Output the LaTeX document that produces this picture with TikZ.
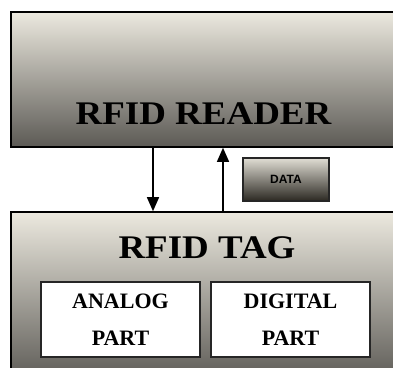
\documentclass[tikz,border=0pt]{standalone}
\usepackage{fontspec}
\setmainfont{Liberation Serif}
\setsansfont{Liberation Sans}
\usepackage{tikz}
\usetikzlibrary{arrows.meta}
\usetikzlibrary{shapes}
\usetikzlibrary{positioning}
\definecolor{panelTop}{HTML}{ECE9DF}
\definecolor{panelMid}{HTML}{B6B3A9}
\definecolor{panelLow}{HTML}{5C5A55}
\tikzstyle{panel}  = [
    shape=rectangle,
    draw=black,
    line width=1.6pt,
    top color=panelTop,
    middle color=panelMid,
    bottom color=panelLow,
    inner sep=0pt
]
\tikzstyle{part}  = [
    shape=rectangle,
    draw=black!85,
    line width=1.3pt,
    fill=white,
    inner sep=0pt,
    minimum width=159pt,
    minimum height=75pt,
    align=center,
    font=\fontsize{22}{37}\selectfont\bfseries
]
\tikzstyle{tag}  = [
    shape=rectangle,
    draw=black!85,
    line width=1.2pt,
    top color=panelTop!95!black,
    bottom color=panelLow!130,
    inner sep=0pt,
    minimum width=86pt,
    minimum height=43pt,
    font=\fontsize{12}{12}\selectfont\sffamily\bfseries
]
\tikzstyle{flow}  = [
    draw,
    line width=1.4pt,
    -{Triangle[length=14pt,width=12pt]}
]
\tikzstyle{title}  = [
    xscale=1.12,
    inner sep=0pt,
    font=\fontsize{33}{33}\selectfont\bfseries
]

\begin{document}
\begin{tikzpicture}[x=1pt, y=-1pt]
\useasboundingbox (0,0) rectangle (393,367);
\clip (0,0) rectangle (393,367);
\node[panel, minimum width=395pt, minimum height=135pt] (reader) at (208.5,79.5) {};
\node[title] (readerlabel) at (203.5,114) {RFID READER};
\node[panel, minimum width=395pt, minimum height=170pt] (board) at (208.5,297) {};
\node[title] (boardlabel) at (207,248) {RFID TAG};
\node[part] (analog)  at (120.5,319.5) {ANALOG\\PART};
\node[part] (digital) at (290.5,319.5) {DIGITAL\\PART};
\node[tag] (data) at (286,179.5) {DATA};

\coordinate (dn) at (153,0);
\coordinate (up) at (223,0);
\draw[flow] (reader.south -| dn) -- (board.north -| dn);
\draw[flow] (board.north -| up) -- (reader.south -| up);

\end{tikzpicture}
\end{document}
